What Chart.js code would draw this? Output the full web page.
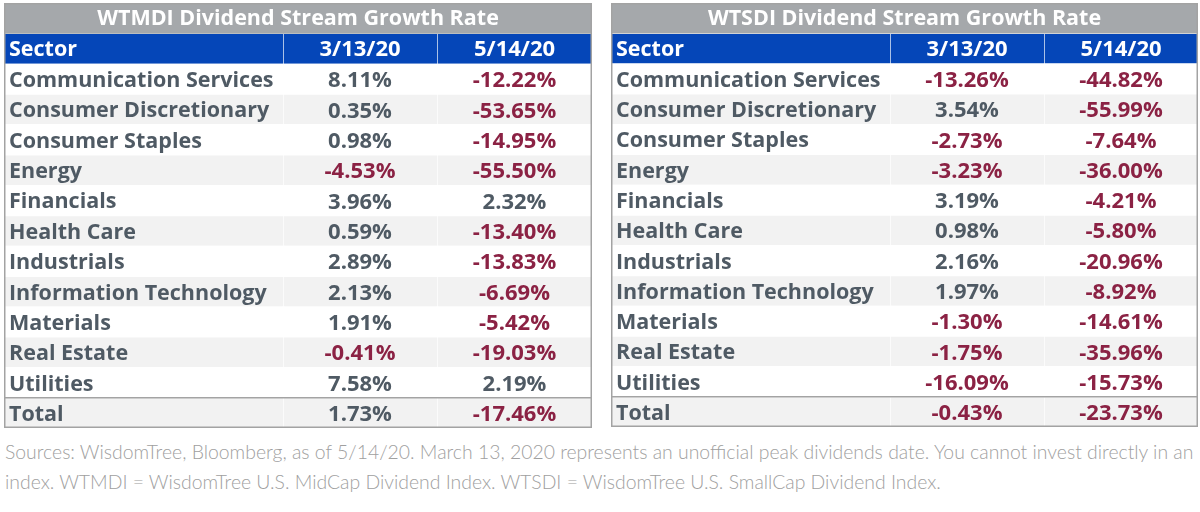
<!DOCTYPE html>
<html>
<head>
<meta charset="utf-8">
<script src="https://cdn.jsdelivr.net/npm/chart.js@4.4.1/dist/chart.umd.min.js"></script>
<style>
  body { margin: 0; background: #fff; width: 1200px; height: 512px; overflow: hidden; position: relative; }
  .tbl { position: absolute; top: 3px; }
  #note { position: absolute; left: 5px; top: 437px; width: 1195px; font-family: Lato, sans-serif; font-weight: 300;
          font-size: 19.4px; line-height: 30px; color: #a0a0a0; white-space: nowrap; }
</style>
</head>
<body>
<div class="tbl" style="left:4px"><canvas id="wtmdi" width="588" height="425"></canvas></div>
<div class="tbl" style="left:611px"><canvas id="wtsdi" width="587" height="424"></canvas></div>
<div id="note">Sources: WisdomTree, Bloomberg, as of 5/14/20. March 13, 2020 represents an unofficial peak dividends date. You cannot invest directly in an<br>index. WTMDI = WisdomTree U.S. MidCap Dividend Index. WTSDI = WisdomTree U.S. SmallCap Dividend Index.</div>
<script>
const sectors = ['Communication Services', 'Consumer Discretionary', 'Consumer Staples', 'Energy', 'Financials',
  'Health Care', 'Industrials', 'Information Technology', 'Materials', 'Real Estate', 'Utilities'];
const dates = ['3/13/20', '5/14/20'];

const wtmdiMar = [8.11, 0.35, 0.98, -4.53, 3.96, 0.59, 2.89, 2.13, 1.91, -0.41, 7.58];
const wtmdiMay = [-12.22, -53.65, -14.95, -55.50, 2.32, -13.40, -13.83, -6.69, -5.42, -19.03, 2.19];
const wtmdiTotal = [1.73, -17.46];

const wtsdiMar = [-13.26, 3.54, -2.73, -3.23, 3.19, 0.98, 2.16, 1.97, -1.30, -1.75, -16.09];
const wtsdiMay = [-44.82, -55.99, -7.64, -36.00, -4.21, -5.80, -20.96, -8.92, -14.61, -35.96, -15.73];
const wtsdiTotal = [-0.43, -23.73];

const GREY_HEAD = '#a5a8ab';
const BLUE = '#0546b8';
const SHADE = '#f2f2f2';
const TEXT = '#4f5a64';
const NEG = '#8b2244';
const FONT = '"Open Sans", sans-serif';
const LABEL_FONT = 'bold 21.5px ' + FONT;
const NUM_FONT = 'bold 22px ' + FONT;

function makeTable(id, title, marVals, mayVals, totals) {
  const canvas = document.getElementById(id);
  const W = canvas.width;
  const cols = [[0, 279], [279, 433], [433, W]];
  const rows = ['title', 'header', ...sectors, 'Total'];

  const rowColor = (i) => {
    if (i === 0) return null;
    if (i === 1) return BLUE;
    if (i === rows.length - 1) return SHADE;
    return (i - 2) % 2 === 1 ? SHADE : '#ffffff';
  };

  const cellSets = cols.map((c, ci) => ({
    data: rows.map((r, i) => (i === 0 ? null : c)),
    backgroundColor: rows.map((r, i) => rowColor(i)),
    borderColor: '#ffffff',
    borderWidth: ci === 0 ? { top: 1 } : { left: 1, top: 1 },
    borderSkipped: false,
    grouped: false,
    barPercentage: 1,
    categoryPercentage: 1
  }));
  const titleSet = {
    data: rows.map((r, i) => (i === 0 ? [0, W] : null)),
    backgroundColor: GREY_HEAD,
    borderWidth: 0,
    grouped: false,
    barPercentage: 1,
    categoryPercentage: 1
  };

  const textPlugin = {
    id: 'cellText',
    afterDatasetsDraw(chart) {
      const ctx = chart.ctx;
      const x = chart.scales.x, y = chart.scales.y;
      const mid = (c) => x.getPixelForValue((c[0] + c[1]) / 2);
      ctx.save();
      ctx.textBaseline = 'middle';

      // title
      ctx.font = LABEL_FONT;
      ctx.fillStyle = '#ffffff';
      ctx.textAlign = 'center';
      ctx.fillText(title, x.getPixelForValue(W / 2), y.getPixelForValue(0) + 1);

      // header
      ctx.textAlign = 'left';
      ctx.fillText('Sector', x.getPixelForValue(5), y.getPixelForValue(1) + 1);
      ctx.textAlign = 'center';
      ctx.font = NUM_FONT;
      dates.forEach((d, k) => ctx.fillText(d, mid(cols[k + 1]), y.getPixelForValue(1) + 1));

      const drawRow = (label, vals, i) => {
        const py = y.getPixelForValue(i) + 2;
        ctx.font = LABEL_FONT;
        ctx.textAlign = 'left';
        ctx.fillStyle = TEXT;
        ctx.fillText(label, x.getPixelForValue(5), py);
        ctx.font = NUM_FONT;
        ctx.textAlign = 'center';
        vals.forEach((v, k) => {
          ctx.fillStyle = v < 0 ? NEG : TEXT;
          ctx.fillText(v.toFixed(2) + '%', mid(cols[k + 1]), py);
        });
      };
      sectors.forEach((s, j) => drawRow(s, [marVals[j], mayVals[j]], j + 2));
      drawRow('Total', totals, rows.length - 1);

      // total separator and outer frame
      const a = chart.chartArea;
      const sep = (y.getPixelForValue(rows.length - 2) + y.getPixelForValue(rows.length - 1)) / 2;
      ctx.strokeStyle = '#a3a3a3';
      ctx.lineWidth = 1.5;
      ctx.beginPath();
      ctx.moveTo(a.left, sep);
      ctx.lineTo(a.right, sep);
      ctx.stroke();
      ctx.strokeRect(a.left + 0.75, a.top + 0.75, a.right - a.left - 1.5, a.bottom - a.top - 1.5);
      ctx.restore();
    }
  };

  return new Chart(canvas, {
    type: 'bar',
    data: { labels: rows, datasets: [titleSet, ...cellSets] },
    options: {
      indexAxis: 'y',
      responsive: false,
      animation: false,
      layout: { padding: 0 },
      scales: {
        x: { type: 'linear', min: 0, max: W, display: false },
        y: { type: 'category', display: false, offset: true }
      },
      plugins: { legend: { display: false }, tooltip: { enabled: false } }
    },
    plugins: [textPlugin]
  });
}

makeTable('wtmdi', 'WTMDI Dividend Stream Growth Rate', wtmdiMar, wtmdiMay, wtmdiTotal);
makeTable('wtsdi', 'WTSDI Dividend Stream Growth Rate', wtsdiMar, wtsdiMay, wtsdiTotal);
</script>
</body>
</html>
